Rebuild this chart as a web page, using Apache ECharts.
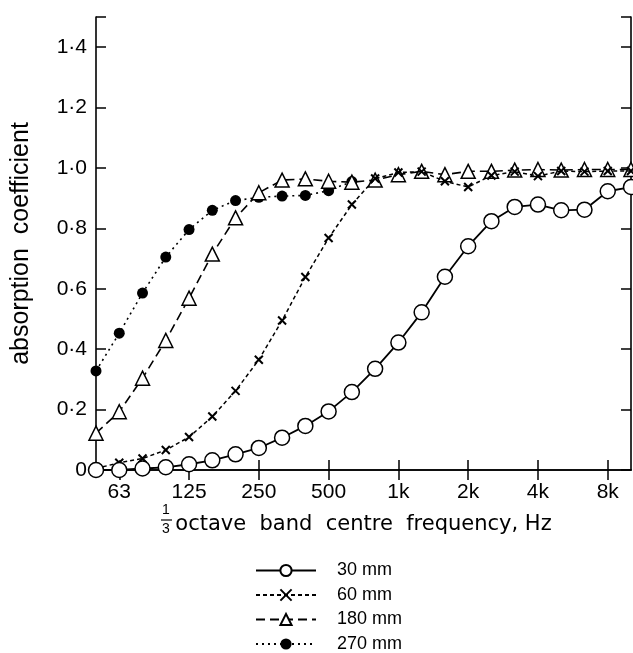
<!DOCTYPE html>
<html>
<head>
<meta charset="utf-8">
<script src="https://cdn.jsdelivr.net/npm/echarts@6/dist/echarts.min.js"></script>
<style>
html,body{margin:0;padding:0;background:#fff;}
#c{width:633px;height:653px;}
</style>
</head>
<body>
<div id="c"></div>
<script>
// 1/3 octave band centre frequencies (Hz)
const bands = ['50','63','80','100','125','160','200','250','315','400','500','630','800','1k','1.25k','1.6k','2k','2.5k','3.15k','4k','5k','6.3k','8k','10k'];
// labelled bands on the axis
const labelledBands = ['63','125','250','500','1k','2k','4k','8k'];
// absorption coefficient per series
const mm30 = [0, 0, 0.005, 0.009, 0.019, 0.032, 0.052, 0.073, 0.107, 0.146, 0.194, 0.258, 0.335, 0.422, 0.522, 0.640, 0.741, 0.824, 0.871, 0.879, 0.860, 0.862, 0.923, 0.937];
const mm60 = [0.005, 0.024, 0.038, 0.066, 0.109, 0.177, 0.262, 0.365, 0.495, 0.639, 0.768, 0.879, 0.965, 0.985, 0.988, 0.956, 0.937, 0.975, 0.988, 0.973, 0.990, 0.988, 0.990, 0.990];
const mm180 = [0.122, 0.193, 0.304, 0.429, 0.569, 0.715, 0.835, 0.918, 0.960, 0.964, 0.956, 0.953, 0.960, 0.978, 0.989, 0.978, 0.989, 0.989, 0.993, 0.995, 0.993, 0.995, 0.995, 0.995];
const mm270 = [0.328, 0.453, 0.586, 0.705, 0.796, 0.860, 0.892, 0.903, 0.907, 0.909, 0.925, 0.955];
const seriesNames = ['30 mm', '60 mm', '180 mm', '270 mm'];

const FONT = 'Liberation Sans';
const isLabelled = (i) => labelledBands.indexOf(bands[i]) >= 0;
const yFmt = (v) => {
  if (Math.abs(v * 5 - Math.round(v * 5)) > 1e-6) return '';
  if (v === 0) return '0';
  return v.toFixed(1).replace('.', '\u00b7');
};
const axisLine = { show: true, lineStyle: { color: '#000', width: 1.6 } };
const tickIn = { show: true, inside: true, length: 10, lineStyle: { color: '#000', width: 1.5 } };

const chart = echarts.init(document.getElementById('c'));
chart.setOption({
  animation: false,
  backgroundColor: '#fff',
  grid: { left: 96, right: 2, top: 17, bottom: 183 },
  xAxis: [
    {
      type: 'category', data: bands, boundaryGap: false, position: 'bottom',
      axisLine: axisLine,
      axisTick: Object.assign({}, tickIn, { interval: (i) => isLabelled(i) }),
      axisLabel: { interval: (i) => isLabelled(i), color: '#000', fontFamily: FONT, fontSize: 21, margin: 12 },
      splitLine: { show: false },
      name: 'octave  band  centre  frequency, Hz', nameLocation: 'middle', nameGap: 44,
      nameTextStyle: { color: '#000', fontFamily: 'DejaVu Sans', fontSize: 21 }
    },
    {
      type: 'category', data: bands, boundaryGap: false, position: 'top',
      axisLine: axisLine,
      axisTick: Object.assign({}, tickIn, { interval: (i) => isLabelled(i) }),
      axisLabel: { show: false }, splitLine: { show: false }
    }
  ],
  yAxis: [
    {
      type: 'value', min: 0, max: 1.5, interval: 0.2, position: 'left',
      axisLine: axisLine, axisTick: tickIn,
      axisLabel: { formatter: yFmt, color: '#000', fontFamily: FONT, fontSize: 21, margin: 9 },
      splitLine: { show: false },
      name: 'absorption  coefficient', nameLocation: 'middle', nameGap: 62, nameRotate: 90,
      nameTextStyle: { color: '#000', fontFamily: FONT, fontSize: 25 }
    },
    {
      type: 'value', min: 0, max: 1.5, interval: 0.2, position: 'right',
      axisLine: axisLine, axisTick: tickIn,
      axisLabel: { show: false }, splitLine: { show: false }
    }
  ],
  legend: {
    orient: 'vertical', left: 255, bottom: 0, padding: 0,
    itemWidth: 60, itemHeight: 14, itemGap: 6.5,
    textStyle: { color: '#000', fontFamily: FONT, fontSize: 18, padding: [0, 0, 0, 16] },
    data: seriesNames
  },
  series: [
    {
      name: seriesNames[0], type: 'line', data: mm30, clip: false, z: 4, showAllSymbol: true,
      symbol: 'circle', symbolSize: 15,
      lineStyle: { color: '#000', width: 1.8, type: 'solid' },
      itemStyle: { color: '#fff', borderColor: '#000', borderWidth: 1.5 }
    },
    {
      name: seriesNames[1], type: 'line', data: mm60, clip: false, z: 3, showAllSymbol: true,
      symbol: 'path://M0,0L10,10M10,0L0,10', symbolSize: 8, symbolKeepAspect: true,
      lineStyle: { color: '#000', width: 1.5, type: [4, 3] },
      itemStyle: { color: '#000', borderColor: '#000', borderWidth: 2 }
    },
    {
      name: seriesNames[2], type: 'line', data: mm180, clip: false, z: 2, showAllSymbol: true,
      symbol: 'triangle', symbolSize: 14,
      lineStyle: { color: '#000', width: 1.6, type: [9, 5] },
      itemStyle: { color: '#fff', borderColor: '#000', borderWidth: 1.5 }
    },
    {
      name: seriesNames[3], type: 'line', data: mm270, clip: false, z: 1, showAllSymbol: true,
      symbol: 'circle', symbolSize: 11,
      lineStyle: { color: '#000', width: 1.6, type: [2, 4] },
      itemStyle: { color: '#000', borderColor: '#000', borderWidth: 0 }
    }
  ],
  graphic: [
    { type: 'text', left: 162, top: 503, style: { text: '1', fill: '#000', font: '14px "Liberation Sans"' } },
    { type: 'line', shape: { x1: 161, y1: 520, x2: 172, y2: 520 }, style: { stroke: '#000', lineWidth: 1.2 } },
    { type: 'text', left: 162, top: 522, style: { text: '3', fill: '#000', font: '14px "Liberation Sans"' } }
  ]
});
</script>
</body>
</html>
